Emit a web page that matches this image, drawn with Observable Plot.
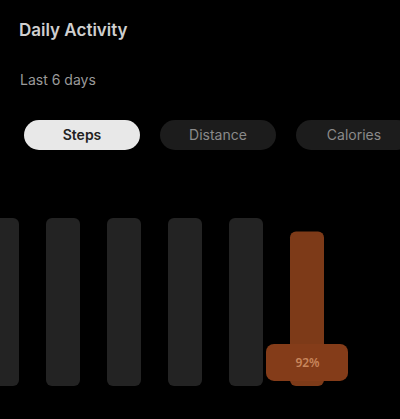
<!DOCTYPE html>
<html><head><meta charset="utf-8">
<script src="https://cdn.jsdelivr.net/npm/d3@7"></script>
<script src="https://cdn.jsdelivr.net/npm/@observablehq/plot@0.6"></script>
<style>
html,body{margin:0;padding:0;background:#000;width:400px;height:419px;overflow:hidden;font-family:Inter,"Noto Sans",sans-serif}
#title{position:absolute;left:19px;top:20px;font-size:17px;font-weight:600;color:#cfcfcf;white-space:nowrap}
#subtitle{position:absolute;left:20px;top:71px;font-size:14px;color:#9a9a9a;white-space:nowrap}
#tabs{position:absolute;left:24px;top:120px;display:flex;gap:20px;white-space:nowrap}
.tab{flex:none;width:116px;height:30px;line-height:30px;text-align:center;font-size:14px;color:#8a8a8a;background:#1c1c1c;border-radius:15px}
.tab.active{background:#e8e8e8;color:#222;font-weight:600}
#chart{position:absolute;left:0;top:195px}
</style></head>
<body>
<div id="title"></div>
<div id="subtitle"></div>
<div id="tabs"></div>
<div id="chart"></div>
<script>
const titleText = "Daily Activity";
const subtitleText = "Last 6 days";
const tabLabels = ["Steps", "Distance", "Calories"];
const activeTab = 0;

const days = ["Mon", "Tue", "Wed", "Thu", "Fri", "Sat"];
const values = [100, 100, 100, 100, 100, 92];
const highlightDay = "Sat";
const labelLow = 3;
const labelHigh = 25;
const labelText = "92%";

document.getElementById("title").textContent = titleText;
document.getElementById("subtitle").textContent = subtitleText;
const tabs = document.getElementById("tabs");
tabLabels.forEach((t, i) => {
  const el = document.createElement("div");
  el.className = "tab" + (i === activeTab ? " active" : "");
  el.textContent = t;
  tabs.appendChild(el);
});

const data = days.map((d, i) => ({day: d, value: values[i]}));
const others = data.filter(d => d.day !== highlightDay);
const hi = data.filter(d => d.day === highlightDay);
const label = [{day: highlightDay, lo: labelLow, hi: labelHigh, text: labelText}];

const chart = Plot.plot({
  width: 400,
  height: 224,
  marginTop: 23,
  marginBottom: 33,
  marginLeft: 0,
  marginRight: 0,
  style: {background: "#000"},
  x: {domain: days, range: [-45, 354], padding: 0.44, axis: null},
  y: {domain: [0, 100], axis: null},
  marks: [
    Plot.barY(others, {x: "day", y: "value", fill: "#232323", rx: 6}),
    Plot.barY(hi, {x: "day", y: "value", fill: "#7d3a18", rx: 6}),
    Plot.barY(label, {x: "day", y1: "lo", y2: "hi", fill: "#843c19", insetLeft: -24, insetRight: -24, rx: 8}),
    Plot.text(label, {x: "day", y: d => (d.lo + d.hi) / 2, text: "text", fill: "#c8865c", fontSize: 12, fontWeight: 600})
  ]
});
document.getElementById("chart").appendChild(chart);
</script>
</body></html>
